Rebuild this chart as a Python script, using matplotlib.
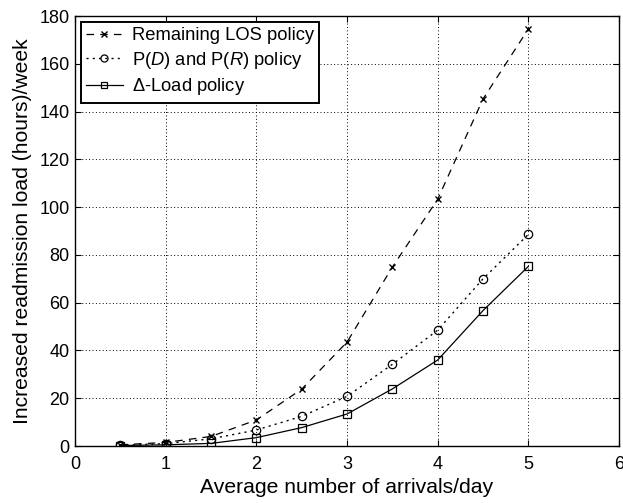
import matplotlib
matplotlib.use('Agg')
import matplotlib.pyplot as plt

plt.rcParams['font.family'] = ['Liberation Sans', 'DejaVu Sans']
plt.rcParams['mathtext.fontset'] = 'custom'
plt.rcParams['mathtext.rm'] = 'Liberation Sans'
plt.rcParams['mathtext.it'] = 'Liberation Sans:italic'

arrivals = [0.5, 1, 1.5, 2, 2.5, 3, 3.5, 4, 4.5, 5]
remaining_los = [0.5, 1.5, 4.0, 10.9, 23.8, 43.5, 74.9, 103.3, 145.3, 174.6]
pd_pr = [0.3, 1.0, 3.0, 6.7, 12.4, 20.8, 34.2, 48.5, 70.0, 88.6]
delta_load = [0.2, 0.5, 1.1, 3.5, 7.7, 13.4, 23.9, 36.0, 56.7, 75.2]

fig = plt.figure(figsize=(6.23, 5.03), dpi=100)
ax = fig.add_axes([0.1204, 0.1133, 0.8732, 0.8547])

ax.plot(arrivals, remaining_los, color='black', linestyle=(0, (6, 5)), linewidth=0.9,
        marker='x', markersize=5, markeredgewidth=1.0, label='Remaining LOS policy')
ax.plot(arrivals, pd_pr, color='black', linestyle=(0, (1.5, 3)), linewidth=1.0,
        marker='o', markersize=6, markerfacecolor='none', markeredgewidth=0.9,
        label=r'P($D$) and P($R$) policy')
ax.plot(arrivals, delta_load, color='black', linestyle='-', linewidth=0.9,
        marker='s', markersize=5.5, markerfacecolor='none', markeredgewidth=0.9,
        label=r'$\Delta$-Load policy')

ax.set_xlim(0, 6)
ax.set_ylim(0, 180)
ax.set_xticks(range(0, 7))
ax.set_yticks(range(0, 181, 20))
ax.grid(True, color='black', linestyle=(0, (1, 2.5)), linewidth=0.7)
ax.tick_params(direction='in', labelsize=13, length=4, top=True, right=True,
               labeltop=False, labelright=False)
ax.tick_params(axis='x', pad=7)
ax.tick_params(axis='y', pad=4)
for s in ax.spines.values():
    s.set_linewidth(1.0)

ax.set_xlabel('Average number of arrivals/day', fontsize=15.2, labelpad=4)
ax.set_ylabel('Increased readmission load (hours)/week', fontsize=15.2, labelpad=5)

leg = ax.legend(loc='upper left', fontsize=13.2, markerscale=0.85, numpoints=1,
                handlelength=2.0, handletextpad=0.5, borderaxespad=0.3,
                labelspacing=0.3, borderpad=0.3, fancybox=False, framealpha=1)
leg.get_frame().set_edgecolor('black')
leg.get_frame().set_linewidth(1.4)

fig.savefig('out.png', dpi=100)
